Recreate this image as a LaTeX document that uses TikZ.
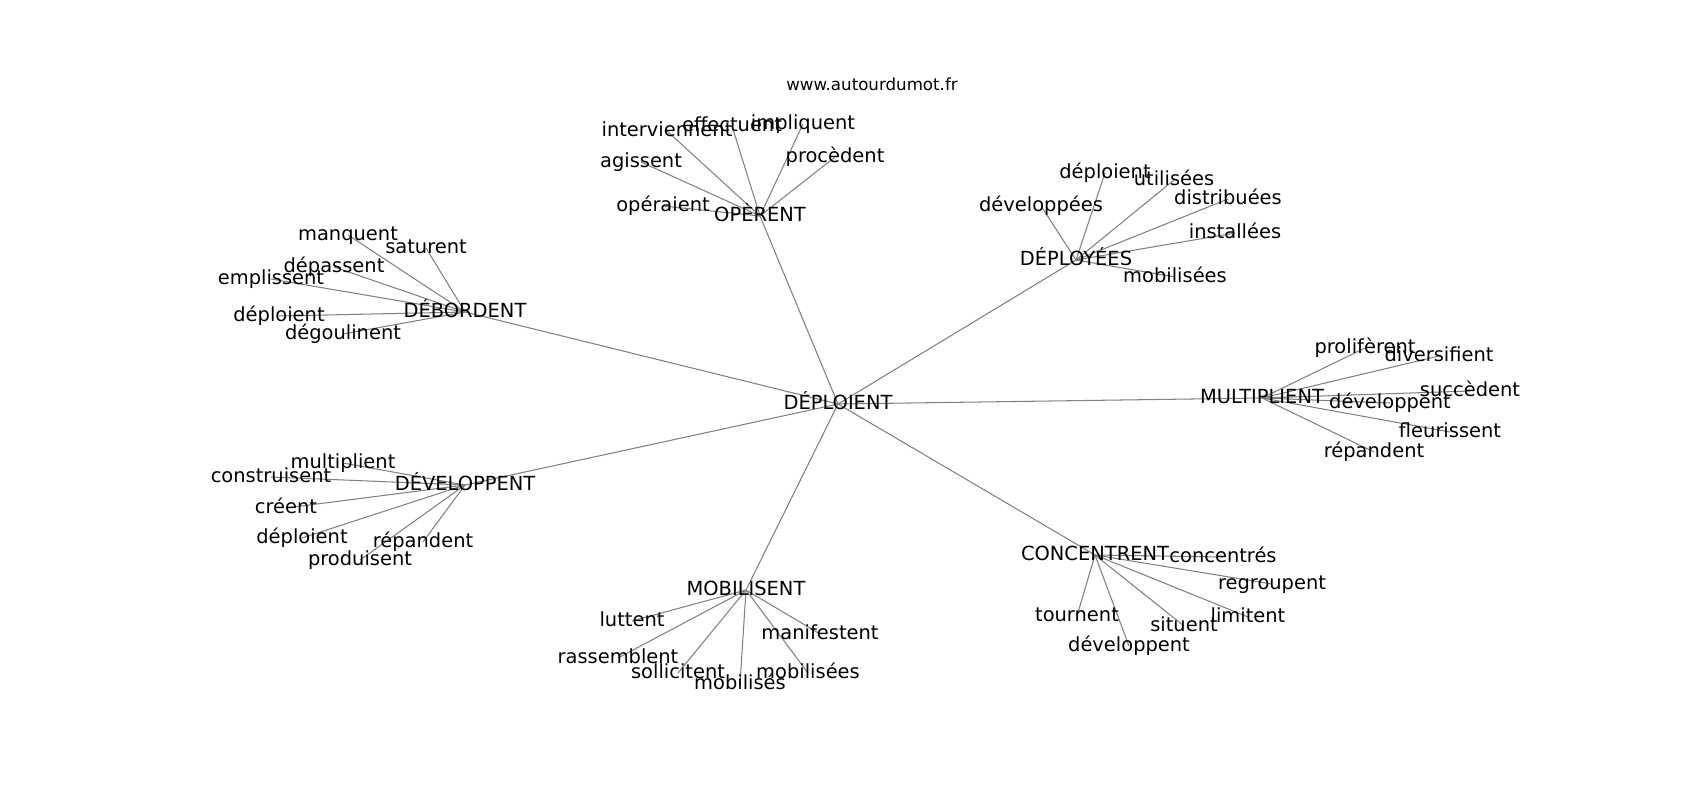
\documentclass[tikz,border=0pt]{standalone}
\usepackage{fontspec}
\setmainfont{DejaVu Sans}
\usetikzlibrary{backgrounds}
\tikzset{
  lbl/.style={inner sep=0pt, outer sep=0pt, text height=0.82em, text depth=0em, anchor=center, font=\fontsize{14}{16}\selectfont, text=black},
  wlbl/.style={inner sep=0pt, anchor=center, font=\fontsize{12}{14}\selectfont, text=black},
  edge/.style={draw=gray, line width=0.75pt}
}
\begin{document}
\begin{tikzpicture}[x=0.72pt, y=-0.72pt]
\useasboundingbox (0,0) rectangle (1700,800);
\node[wlbl] (www) at (872,84) {www.autourdumot.fr};
% hubs
\node[lbl] (c) at (838,404) {DÉPLOIENT};
\node[lbl] (op) at (760,216) {OPÈRENT};
\node[lbl] (db) at (465,312) {DÉBORDENT};
\node[lbl] (dy) at (1076,260) {DÉPLOYÉES};
\node[lbl] (mu) at (1262,398) {MULTIPLIENT};
\node[lbl] (dv) at (465,485) {DÉVELOPPENT};
\node[lbl] (mo) at (746,590) {MOBILISENT};
\node[lbl] (co) at (1095,555) {CONCENTRENT};
% OPÈRENT leaves
\node[lbl] (op1) at (667,131) {interviennent};
\node[lbl] (op2) at (732,126) {effectuent};
\node[lbl] (op3) at (803,124) {impliquent};
\node[lbl] (op4) at (835,157) {procèdent};
\node[lbl] (op5) at (641,162) {agissent};
\node[lbl] (op6) at (663,206) {opéraient};
% DÉBORDENT leaves
\node[lbl] (db1) at (348,235) {manquent};
\node[lbl] (db2) at (426,248) {saturent};
\node[lbl] (db3) at (334,267) {dépassent};
\node[lbl] (db4) at (271,279) {emplissent};
\node[lbl] (db5) at (279,316) {déploient};
\node[lbl] (db6) at (343,334) {dégoulinent};
% DÉPLOYÉES leaves
\node[lbl] (dy1) at (1105,173) {déploient};
\node[lbl] (dy2) at (1174,180) {utilisées};
\node[lbl] (dy3) at (1041,206) {développées};
\node[lbl] (dy4) at (1228,199) {distribuées};
\node[lbl] (dy5) at (1235,233) {installées};
\node[lbl] (dy6) at (1175,277) {mobilisées};
% MULTIPLIENT leaves
\node[lbl] (mu1) at (1365,348) {prolifèrent};
\node[lbl] (mu2) at (1439,356) {diversifient};
\node[lbl] (mu3) at (1470,391) {succèdent};
\node[lbl] (mu4) at (1390,403) {développent};
\node[lbl] (mu5) at (1450,432) {fleurissent};
\node[lbl] (mu6) at (1374,452) {répandent};
% DÉVELOPPENT leaves
\node[lbl] (dv1) at (343,463) {multiplient};
\node[lbl] (dv2) at (271,477) {construisent};
\node[lbl] (dv3) at (286,508) {créent};
\node[lbl] (dv4) at (302,538) {déploient};
\node[lbl] (dv5) at (423,542) {répandent};
\node[lbl] (dv6) at (360,560) {produisent};
% MOBILISENT leaves
\node[lbl] (mo1) at (632,621) {luttent};
\node[lbl] (mo2) at (820,634) {manifestent};
\node[lbl] (mo3) at (618,658) {rassemblent};
\node[lbl] (mo4) at (678,673) {sollicitent};
\node[lbl] (mo5) at (740,684) {mobilisés};
\node[lbl] (mo6) at (808,673) {mobilisées};
% CONCENTRENT leaves
\node[lbl] (co1) at (1223,557) {concentrés};
\node[lbl] (co2) at (1272,584) {regroupent};
\node[lbl] (co3) at (1077,616) {tournent};
\node[lbl] (co4) at (1184,626) {situent};
\node[lbl] (co5) at (1248,617) {limitent};
\node[lbl] (co6) at (1129,646) {développent};
\begin{pgfonlayer}{background}
\fill[white] (0,0) rectangle (1700,800);
\foreach \h in {op,db,dy,mu,dv,mo,co}{
  \draw[edge] (c.center) -- (\h.center);
  \foreach \i in {1,...,6}{
    \draw[edge] (\h.center) -- (\h\i.center);
  }
}
\end{pgfonlayer}
\end{tikzpicture}
\end{document}
